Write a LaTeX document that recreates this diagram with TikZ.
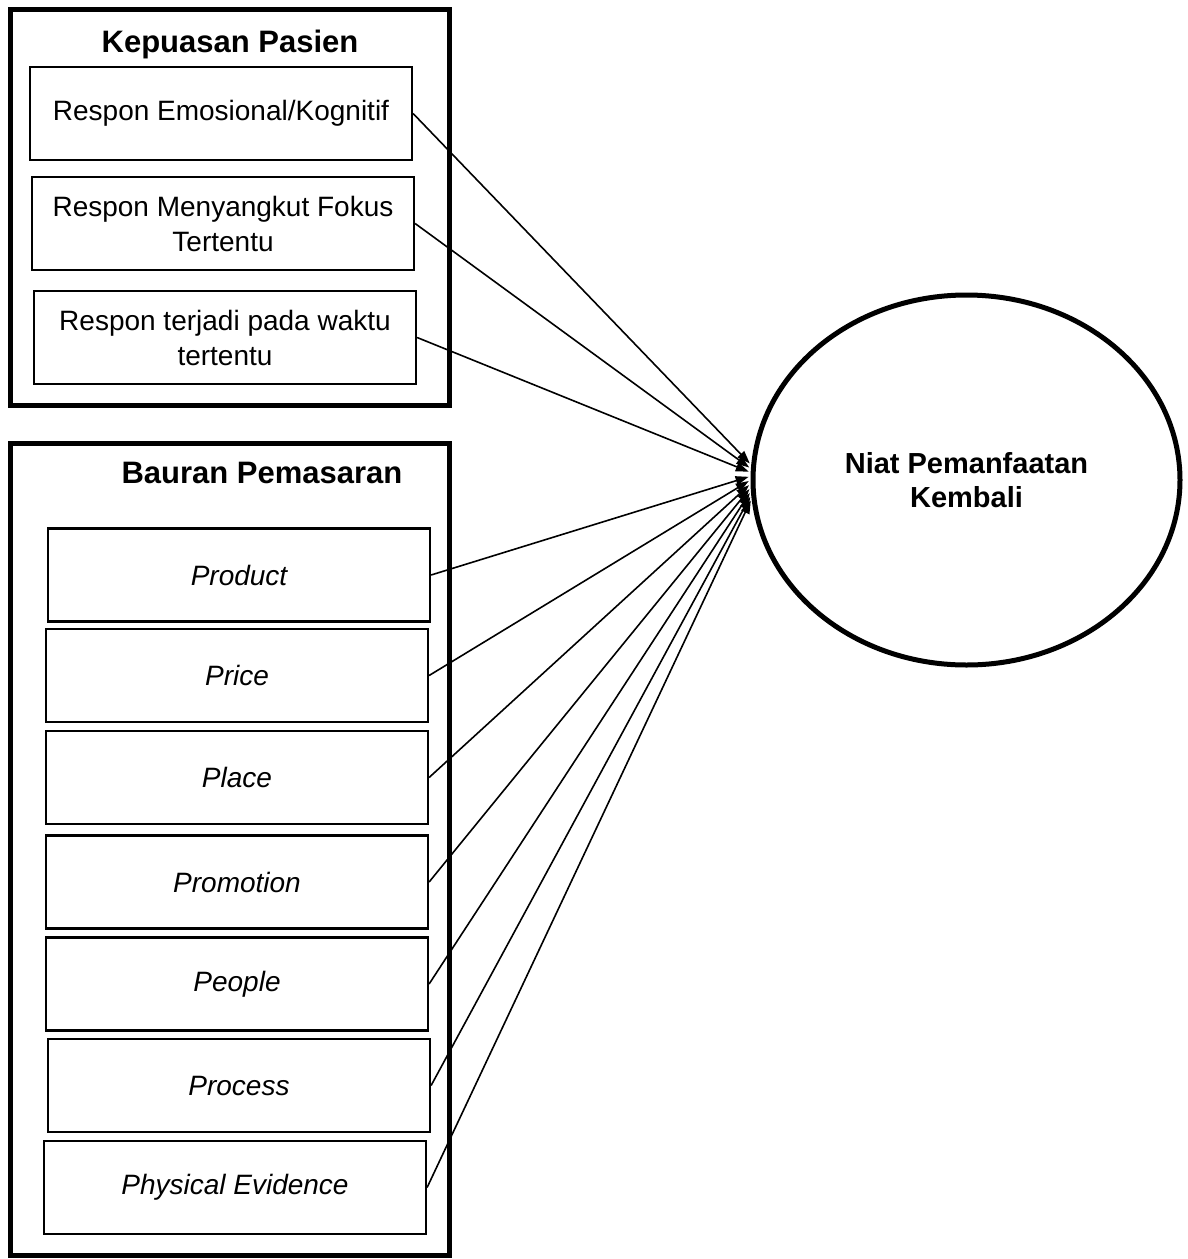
\documentclass[tikz,border=0pt]{standalone}
\usepackage{fontspec}
\setmainfont{Liberation Sans}
\usetikzlibrary{shapes.geometric,arrows.meta}

\tikzset{
    groupbox/.style={draw,line width=5pt},
    grouptitle/.style={anchor=base,font=\fontsize{31}{37}\selectfont\bfseries},
    itembox/.style={draw,line width=2.2pt,minimum width=382pt,minimum height=93pt,
        inner sep=2pt,align=center,font=\fontsize{28}{35}\selectfont},
    mixbox/.style={itembox,font=\fontsize{28}{35}\selectfont\itshape},
    link/.style={line width=1.6pt,shorten >=2pt,-{Triangle[length=13pt,width=9pt]}},
}

\begin{document}
\begin{tikzpicture}[x=1pt,y=-1pt]
    \useasboundingbox (0,0) rectangle (1187,1259);

    \draw[groupbox] (10,9.5) rectangle (449,405.5);
    \node[grouptitle] (kepuasan) at (230,52) {Kepuasan Pasien};
    \node[itembox] (emosi) at (221,113.5) {Respon Emosional/Kognitif};
    \node[itembox] (fokus) at (223,223.5) {Respon Menyangkut Fokus\\Tertentu};
    \node[itembox] (waktu) at (225,337.5) {Respon terjadi pada waktu\\tertentu};

    \draw[groupbox] (10,443) rectangle (449.5,1255);
    \node[grouptitle] (bauran) at (262,483) {Bauran Pemasaran};
    \node[mixbox] (product) at (239,575) {Product};
    \node[mixbox] (price) at (237,675.5) {Price};
    \node[mixbox] (place) at (237,777.5) {Place};
    \node[mixbox] (promotion) at (237,882) {Promotion};
    \node[mixbox] (people) at (237,984) {People};
    \node[mixbox] (process) at (239,1085.5) {Process};
    \node[mixbox] (evidence) at (235,1187.5) {Physical Evidence};

    \node[draw,ellipse,line width=5pt,minimum width=427pt,minimum height=370pt,
        align=center,font=\fontsize{29}{34}\selectfont\bfseries] (niat) at (966.5,480)
        {Niat Pemanfaatan\\Kembali};

    \foreach \src/\ang in {emosi/176,fokus/177,waktu/178,product/179,price/180,
        place/181,promotion/182,people/183,process/184,evidence/185}
        \draw[link] (\src.east) -- (niat.\ang);
\end{tikzpicture}
\end{document}
